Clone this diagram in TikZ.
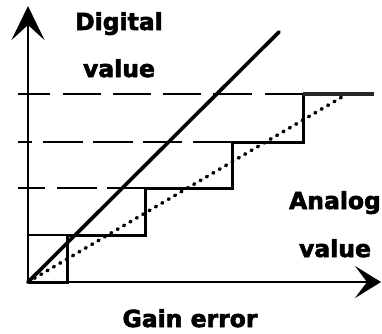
\documentclass[tikz,border=0pt]{standalone}
\usepackage{fontspec}
\setmainfont{DejaVu Sans}
\newfontfamily\lblfont[FakeBold=2.5]{DejaVu Sans Bold}
\usetikzlibrary{arrows.meta}
\begin{document}
\begin{tikzpicture}[x=1pt,y=-1pt,
  lbl/.style={anchor=base,font=\fontsize{23.5}{26}\lblfont,inner sep=0pt},
  axis/.style={line width=2.6pt},
  stair/.style={line width=3pt,line join=miter},
  topstep/.style={line width=3.4pt,draw=black!85},
  thin/.style={line width=2pt},
  dsh/.style={line width=2pt},
  ideal/.style={line width=3.6pt,line cap=round},
  gain/.style={line width=3.6pt,line cap=round,dash pattern=on 1pt off 6.4pt}]
\useasboundingbox (0,0) rectangle (382,333);
\coordinate (O) at (28,282);
\coordinate (Ytip) at (28,6);
\coordinate (Xtip) at (381,282);
\coordinate (Iend) at (279,32);
\coordinate (Gend) at (342,97);
% dashed level lines
\foreach \a/\b in {18/50,63/101,113/151,163/201,213/252,265/303}
  \draw[dsh] (\a,94) -- (\b,94);
\foreach \a/\b in {18/32,43/83,93/133,143/182,193/232}
  \draw[dsh] (\a,142) -- (\b,142);
\foreach \a/\b in {18/45,57/97,107/145}
  \draw[dsh] (\a,188) -- (\b,188);
% thin box near origin
\draw[thin] (28,235) -- (67,235);
% staircase
\draw[stair] (O) -- (67,282) -- (67,235) -- (145,235) -- (145,188) -- (232,188)
  -- (232,142) -- (303,142) -- (303,94);
\draw[topstep] (303,94) -- (374,94);
% axes
\draw[axis,-{Stealth[length=34pt,width=33pt,inset=15pt]}] (O) -- (Ytip);
\draw[axis,-{Stealth[length=26pt,width=32pt,inset=12pt]}] (O) -- (Xtip);
% ideal and gain error lines
\draw[ideal] (O) -- (Iend);
\draw[gain] (O) -- (Gend);
% labels
\node[lbl] (dig) at (119,30) {Digital};
\node[lbl] (dval) at (119,77) {value};
\node[lbl] (ana) at (335,209) {Analog};
\node[lbl] (aval) at (335,257) {value};
\node[lbl] (ge) at (190,327) {Gain error};
\end{tikzpicture}
\end{document}
